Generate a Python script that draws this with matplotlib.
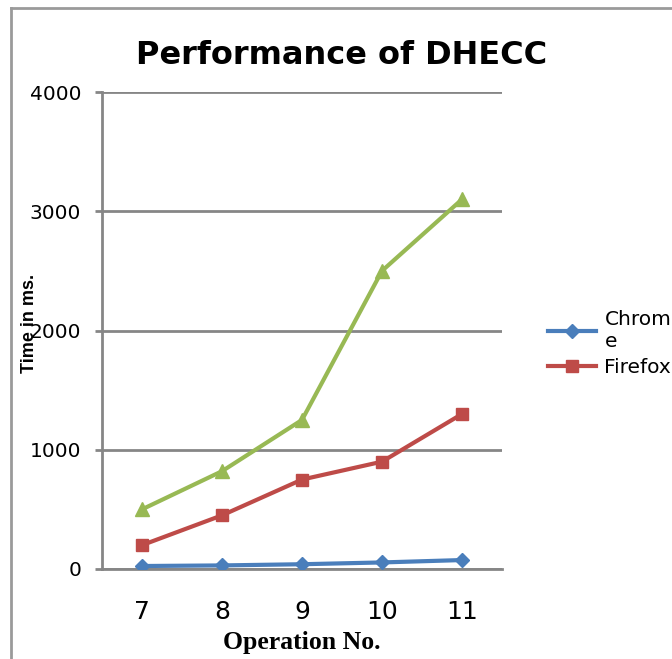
import numpy as np
import matplotlib
matplotlib.use("Agg")
import matplotlib.pyplot as plt
from matplotlib.lines import Line2D

ops = ["7", "8", "9", "10", "11"]
chrome = [25, 30, 40, 55, 75]
firefox = [200, 450, 750, 900, 1300]
third = [500, 820, 1250, 2500, 3100]
yticks = [0, 1000, 2000, 3000, 4000]

GRID = '#868686'

fig = plt.figure(figsize=(6.72, 6.59), dpi=100, facecolor='white')
ax = fig.add_axes([102/672, 1 - 569/659, 400/672, 477/659])

x = np.arange(len(ops))
ax.plot(x, chrome, color='#4A7EBB', lw=3, marker='D', ms=7.5, label='Chrom\ne', zorder=4)
ax.plot(x, firefox, color='#BE4B48', lw=3, marker='s', ms=8.5, label='Firefox', zorder=4)
ax.plot(x, third, color='#98B954', lw=3, marker='^', ms=9.5, zorder=4)

ax.set_xlim(-0.5, len(ops) - 0.5)
ax.set_ylim(0, 4000)
ax.set_yticks(yticks)
ax.set_xticks(x)
ax.set_xticklabels(ops, fontsize=18, family='DejaVu Sans')
ax.set_yticklabels([str(v) for v in yticks], fontsize=14.5, family='DejaVu Sans')
ax.yaxis.grid(True, color=GRID, lw=2)
ax.set_axisbelow(True)
for s in ['top', 'right']:
    ax.spines[s].set_visible(False)
for s in ['left', 'bottom']:
    ax.spines[s].set_color(GRID)
    ax.spines[s].set_linewidth(2)
ax.tick_params(axis='y', length=5, width=2, color=GRID, pad=10)
ax.tick_params(axis='x', length=0, pad=22)

fig.text(342/672, 1 - 55/659, 'Performance of DHECC', ha='center', va='center',
         fontsize=23, fontweight='bold', family='DejaVu Sans')
fig.text(302/672, 1 - 643/659, 'Operation No.', ha='center', va='center',
         fontsize=18.5, fontweight='bold', family='Liberation Serif')
fig.text(29/672, 1 - 323/659, 'Time in ms.', ha='center', va='center', rotation=90,
         fontsize=13, fontweight='bold', family='Liberation Sans')

fig.legend(loc='upper left', bbox_to_anchor=(540/672, 1 - 302/659), frameon=False,
           prop={'family': 'DejaVu Sans', 'size': 14.5}, handlelength=2.4,
           borderaxespad=0, handletextpad=0.4, labelspacing=0.35)

# outer chart border
fig.add_artist(Line2D([11/672, 11/672], [0, 1 - 8/659], color='#9a9a9a', lw=2,
                      transform=fig.transFigure))
fig.add_artist(Line2D([11/672, 1], [1 - 8/659, 1 - 8/659], color='#9a9a9a', lw=2,
                      transform=fig.transFigure))

fig.savefig('out.png', dpi=100)
